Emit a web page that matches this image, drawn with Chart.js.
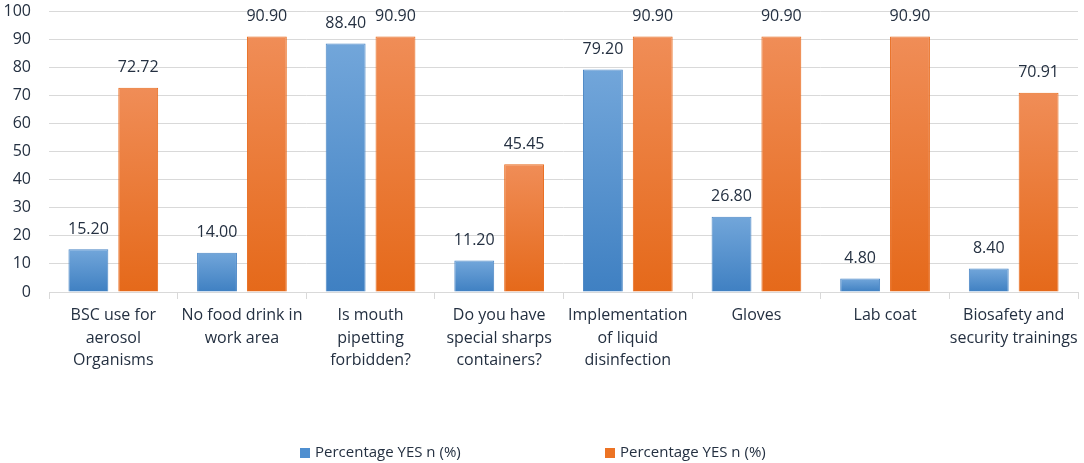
<!DOCTYPE html>
<html lang="en">
<head>
    <meta charset="UTF-8">
    <title>Percentage YES</title>
    <script src="https://cdn.jsdelivr.net/npm/chart.js"></script>
    <style>
        body {
            margin: 0;
            background-color: #fff;
            font-family: 'Open Sans', 'Noto Sans', sans-serif;
        }
        #wrap {
            position: relative;
            width: 1084px;
            height: 463px;
        }
        #legend {
            position: absolute;
            top: 441px;
            left: 0;
            width: 1084px;
            font-size: 15px;
            color: #243041;
        }
        .item {
            position: absolute;
            white-space: nowrap;
        }
        .box {
            display: inline-block;
            width: 10px;
            height: 10px;
            margin-right: 5px;
            vertical-align: -1px;
        }
    </style>
</head>
<body>
    <div id="wrap">
        <canvas id="chart"></canvas>
        <div id="legend">
            <span class="item" style="left: 300px;"><span class="box" style="background:#4f8fd0"></span>Percentage YES n (%)</span>
            <span class="item" style="left: 605px;"><span class="box" style="background:#ec7324"></span>Percentage YES n (%)</span>
        </div>
    </div>

    <script>
        // categories, wrapped the way the original axis shows them
        const categories = [
            ['BSC use for', 'aerosol', 'Organisms'],
            ['No food drink in', 'work area'],
            ['Is mouth', 'pipetting', 'forbidden?'],
            ['Do you have', 'special sharps', 'containers?'],
            ['Implementation', 'of liquid', 'disinfection'],
            ['Gloves'],
            ['Lab coat'],
            ['Biosafety and', 'security trainings']
        ];
        const seriesNames = ['Percentage YES n (%)', 'Percentage YES n (%)'];
        const blueValues = [15.20, 14.00, 88.40, 11.20, 79.20, 26.80, 4.80, 8.40];
        const orangeValues = [72.72, 90.90, 90.90, 45.45, 90.90, 90.90, 90.90, 70.91];
        const yTicks = [0, 10, 20, 30, 40, 50, 60, 70, 80, 90, 100];

        const textColor = '#243041';
        const gridColor = '#d9d9d9';
        const fontFamily = "'Open Sans', 'Noto Sans', sans-serif";

        // each bar gets its own light-to-dark vertical gradient
        function makeGradient(top, bottom) {
            return function(context) {
                const chart = context.chart;
                const area = chart.chartArea;
                if (!area || context.raw == null) return bottom;
                const yTop = chart.scales.y.getPixelForValue(context.raw);
                const g = chart.ctx.createLinearGradient(0, yTop, 0, area.bottom);
                g.addColorStop(0, top);
                g.addColorStop(1, bottom);
                return g;
            };
        }

        // numbers above the bars
        const valueLabels = {
            id: 'valueLabels',
            afterDatasetsDraw(chart) {
                const ctx = chart.ctx;
                ctx.save();
                ctx.fillStyle = textColor;
                ctx.font = '16px ' + fontFamily;
                ctx.textAlign = 'center';
                ctx.textBaseline = 'middle';
                chart.data.datasets.forEach((ds, i) => {
                    chart.getDatasetMeta(i).data.forEach((bar, j) => {
                        ctx.fillText(ds.data[j].toFixed(2), bar.x, bar.y - 20);
                    });
                });
                ctx.restore();
            }
        };

        const ctx = document.getElementById('chart').getContext('2d');
        new Chart(ctx, {
            type: 'bar',
            data: {
                labels: categories,
                datasets: [{
                    label: seriesNames[0],
                    data: blueValues,
                    backgroundColor: makeGradient('#72a6da', '#3f80c2'),
                    borderColor: '#4a86c5',
                    borderWidth: 1,
                    categoryPercentage: 0.775,
                    barPercentage: 0.8
                }, {
                    label: seriesNames[1],
                    data: orangeValues,
                    backgroundColor: makeGradient('#f08d57', '#e5691a'),
                    borderColor: '#e8691a',
                    borderWidth: 1,
                    categoryPercentage: 0.775,
                    barPercentage: 0.8
                }]
            },
            options: {
                responsive: true,
                maintainAspectRatio: false,
                animation: false,
                layout: {
                    padding: { top: 11, right: 6, left: 0, bottom: 0 }
                },
                plugins: {
                    legend: { display: false },
                    tooltip: { enabled: false }
                },
                scales: {
                    x: {
                        afterFit(scale) { scale.height = 171; },
                        grid: {
                            display: true,
                            drawOnChartArea: false,
                            color: gridColor,
                            tickLength: 7,
                            offset: true
                        },
                        border: { color: gridColor, width: 1 },
                        ticks: {
                            color: textColor,
                            font: { size: 16, family: fontFamily, lineHeight: 1.42 },
                            padding: 5,
                            maxRotation: 0,
                            autoSkip: false
                        }
                    },
                    y: {
                        min: 0,
                        max: 100,
                        afterFit(scale) { scale.width = 49; },
                        afterBuildTicks(scale) {
                            scale.ticks = yTicks.map(v => ({ value: v }));
                        },
                        grid: {
                            color: gridColor,
                            drawTicks: true,
                            tickLength: 18,
                            tickColor: 'rgba(0,0,0,0)'
                        },
                        border: { display: false },
                        ticks: {
                            color: textColor,
                            font: { size: 16, family: fontFamily },
                            padding: 0
                        }
                    }
                }
            },
            plugins: [valueLabels]
        });
    </script>
</body>
</html>
